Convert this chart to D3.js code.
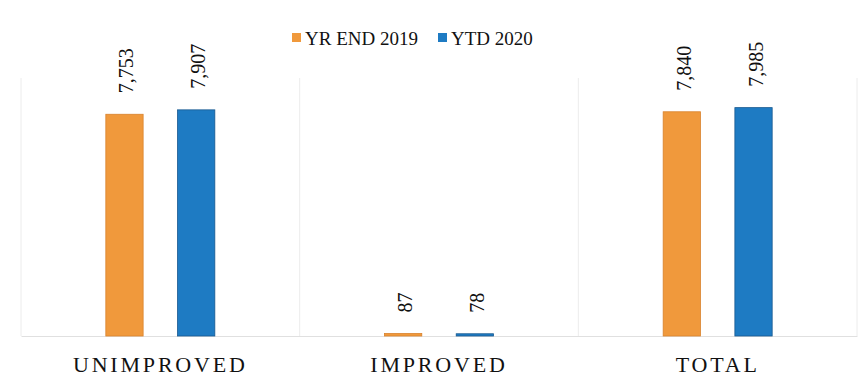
<!DOCTYPE html>
<html>
<head>
<meta charset="utf-8">
<script src="https://cdn.jsdelivr.net/npm/d3@7"></script>
<style>
  body { margin: 0; background: #fff; }
  svg text { font-family: "Liberation Serif", "Times New Roman", serif !important; fill: #111; }
</style>
</head>
<body>
<div id="chart"></div>
<script>
// chart data
var categories = ["UNIMPROVED", "IMPROVED", "TOTAL"];
var seriesNames = ["YR END 2019", "YTD 2020"];
var yrEnd2019 = [7753, 87, 7840];
var ytd2020 = [7907, 78, 7985];

var colors = ["#F0993C", "#1E7BC3"];
var strokes = ["#d9822c", "#17588f"];

// svg size
var svgWidth = 861;
var svgHeight = 378;

var margin = { top: 50, right: 4, bottom: 42, left: 21 };
var width = svgWidth - margin.left - margin.right;
var height = svgHeight - margin.top - margin.bottom;

var svg = d3.select("#chart")
  .append("svg")
  .attr("width", svgWidth)
  .attr("height", svgHeight);

var chartGroup = svg.append("g")
  .attr("transform", `translate(${margin.left}, ${margin.top})`);

// build rows
var rows = categories.map(function (c, i) {
  return { cat: c, values: [yrEnd2019[i], ytd2020[i]] };
});

// scales
var x0 = d3.scaleBand()
  .domain(categories)
  .range([0, width])
  .padding(0);

var mid = x0.bandwidth() / 2;
var x1 = d3.scaleBand()
  .domain(d3.range(seriesNames.length))
  .range([mid - 54.5, mid + 54.5])
  .paddingInner(0.48)
  .paddingOuter(0);

var y = d3.scaleLinear()
  .domain([0, 10000])
  .range([height, 0]);

// category divider lines
chartGroup.selectAll(".divider")
  .data(d3.range(categories.length + 1))
  .enter()
  .append("line")
  .attr("x1", d => d * x0.step())
  .attr("x2", d => d * x0.step())
  .attr("y1", 28)
  .attr("y2", height)
  .attr("stroke", "#ececec")
  .attr("stroke-width", 1);

// bottom axis
var bottomAxis = d3.axisBottom(x0).tickSize(0).tickPadding(0);
var xAxis = chartGroup.append("g")
  .attr("transform", `translate(0, ${height})`)
  .call(bottomAxis);
xAxis.select(".domain").attr("stroke", "#e0e0e0");
xAxis.selectAll("text")
  .attr("y", 36)
  .attr("dy", 0)
  .style("font-size", "22px")
  .style("letter-spacing", "2.8px")
  .attr("fill", "#111");

// bars
var groups = chartGroup.selectAll(".cat")
  .data(rows)
  .enter()
  .append("g")
  .attr("transform", d => `translate(${x0(d.cat)}, 0)`);

groups.selectAll("rect")
  .data(d => d.values.map((v, i) => ({ v: v, i: i })))
  .enter()
  .append("rect")
  .attr("x", d => x1(d.i))
  .attr("y", d => y(d.v))
  .attr("width", x1.bandwidth())
  .attr("height", d => height - y(d.v))
  .attr("fill", d => colors[d.i])
  .attr("stroke", d => strokes[d.i])
  .attr("stroke-width", 0.8);

// value labels
groups.selectAll(".val")
  .data(d => d.values.map((v, i) => ({ v: v, i: i })))
  .enter()
  .append("text")
  .attr("transform", d => `translate(${x1(d.i) + x1.bandwidth() / 2 + 2}, ${y(d.v) - 21}) rotate(-90)`)
  .attr("dy", "0.35em")
  .style("font-size", "20px")
  .text(d => d3.format(",")(d.v));

// legend
var legend = svg.append("g").attr("transform", "translate(292, 38)");
var legendX = [0, 146];
seriesNames.forEach(function (name, i) {
  legend.append("rect")
    .attr("x", legendX[i])
    .attr("y", -5)
    .attr("width", 9)
    .attr("height", 9)
    .attr("fill", colors[i]);
  legend.append("text")
    .attr("x", legendX[i] + 13)
    .attr("y", 0)
    .attr("dy", "0.35em")
    .style("font-size", "19px")
    .text(name);
});
</script>
</body>
</html>
